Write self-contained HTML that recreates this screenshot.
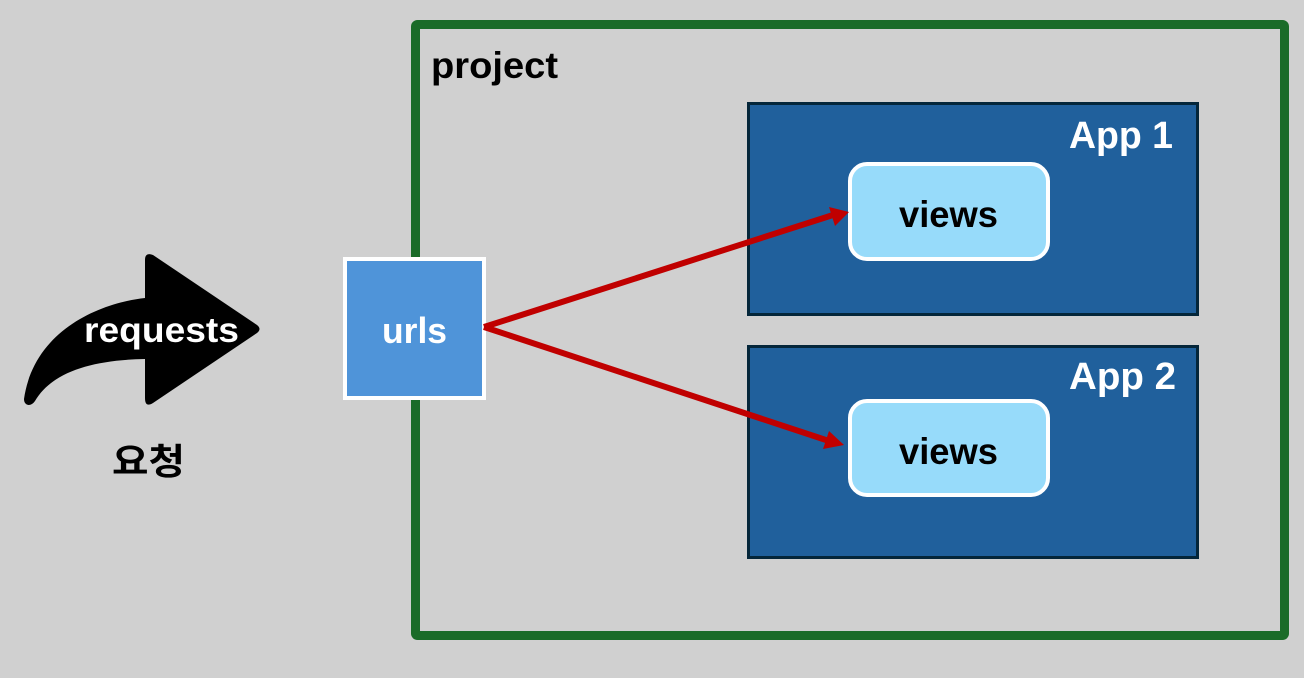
<!DOCTYPE html>
<html>
<head>
<meta charset="utf-8">
<style>
html,body{margin:0;padding:0;background:#d0d0d0}
svg{display:block}
text{font-family:"Liberation Sans","Noto Sans CJK KR",sans-serif;font-weight:700}
</style>
</head>
<body>
<svg width="1304" height="678" viewBox="0 0 1304 678" xmlns="http://www.w3.org/2000/svg">
<rect width="1304" height="678" fill="#d0d0d0"/>
<rect x="415.5" y="24.5" width="869" height="611" rx="2" fill="none" stroke="#1a6b28" stroke-width="9"/>
<text x="431" y="78" font-size="37" fill="#000" textLength="127" lengthAdjust="spacingAndGlyphs">project</text>

<rect x="748.5" y="103.5" width="449" height="211" fill="#20609c" stroke="#04263a" stroke-width="3"/>
<rect x="748.5" y="346.5" width="449" height="211" fill="#20609c" stroke="#04263a" stroke-width="3"/>
<text x="1069" y="148" font-size="38" fill="#fff" textLength="104" lengthAdjust="spacingAndGlyphs">App 1</text>
<text x="1069" y="389" font-size="38" fill="#fff" textLength="107" lengthAdjust="spacingAndGlyphs">App 2</text>

<rect x="850" y="164" width="198" height="95" rx="17" fill="#97dbfa" stroke="#fff" stroke-width="4"/>
<rect x="850" y="401" width="198" height="94" rx="17" fill="#97dbfa" stroke="#fff" stroke-width="4"/>
<text x="899" y="227" font-size="37" fill="#000" textLength="99" lengthAdjust="spacingAndGlyphs">views</text>
<text x="899" y="464" font-size="37" fill="#000" textLength="99" lengthAdjust="spacingAndGlyphs">views</text>

<rect x="345" y="259" width="139" height="139" fill="#4f94d9" stroke="#fff" stroke-width="4"/>
<text x="382" y="343" font-size="36" fill="#fff" textLength="65" lengthAdjust="spacingAndGlyphs">urls</text>

<path d="M484 327L833 215M484 327L829 441" fill="none" stroke="#c00000" stroke-width="6"/>
<path d="M849 212L829 207L835 226Z" fill="#c00000"/>
<path d="M844 445L829 431L823 449Z" fill="#c00000"/>

<path d="M145 298L145 260Q145 252 153 255L257 325Q262 329 257 333L153 403Q145 408 145 398L145 359C92 360 52 372 35 401C31 407 24 406 24 399C34 330 100 303 145 298Z" fill="#000"/>
<text x="84" y="342" font-size="35" fill="#fff" textLength="155" lengthAdjust="spacingAndGlyphs">requests</text>
<text x="112" y="474" font-size="36" fill="#000" textLength="73" lengthAdjust="spacingAndGlyphs">요청</text>
</svg>
</body>
</html>
